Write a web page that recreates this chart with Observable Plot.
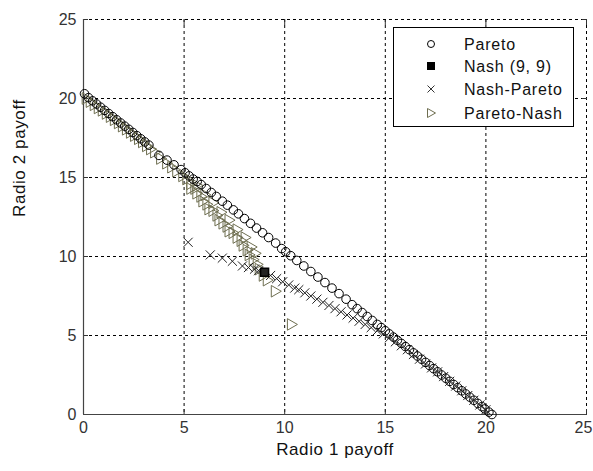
<!DOCTYPE html>
<html>
<head>
<meta charset="utf-8">
<script src="https://cdn.jsdelivr.net/npm/d3@7"></script>
<script src="https://cdn.jsdelivr.net/npm/@observablehq/plot@0.6"></script>
<style>
  html, body { margin: 0; padding: 0; background: #fff; }
  #wrap { position: relative; width: 593px; height: 471px; font-family: "Liberation Sans", Arial, sans-serif; }
  #legend { position: absolute; left: 393px; top: 27px; width: 181px; height: 100px; border: 1px solid #000; background: #fff; box-sizing: border-box; }
  #legend svg { position: absolute; left: 0; top: 0; }
</style>
</head>
<body>
<div id="wrap"></div>
<script>
// ---- data ----
const paretoX = [0.05,0.25,0.45,0.65,0.85,1.05,1.25,1.45,1.65,1.85,2.05,2.25,2.45,2.65,2.85,3.05,3.25,3.75,4.15,4.5,4.85,5.05,5.25,5.45,5.65,5.85,6.1,6.35,6.6,6.9,7.15,7.45,7.7,8.0,8.3,8.6,8.9,9.2,9.55,9.85,10.05,10.3,10.6,10.95,11.3,11.65,12.0,12.35,12.7,13.05,13.35,13.6,13.85,14.1,14.35,14.6,14.8,15.0,15.2,15.4,15.6,15.8,16.0,16.2,16.4,16.6,16.8,17.0,17.2,17.4,17.6,17.8,18.0,18.2,18.4,18.6,18.8,19.0,19.2,19.4,19.6,19.8,19.95,20.15,20.3];
const paretoY = [20.3,20.05,19.85,19.65,19.45,19.25,19.05,18.85,18.65,18.45,18.25,18.05,17.85,17.65,17.45,17.25,17.05,16.4,16.1,15.8,15.5,15.3,15.1,14.9,14.75,14.55,14.3,14.05,13.8,13.5,13.25,12.95,12.7,12.4,12.1,11.8,11.5,11.2,10.85,10.5,10.3,10.05,9.75,9.4,9.05,8.7,8.35,8.0,7.65,7.3,6.95,6.7,6.45,6.2,5.95,5.7,5.5,5.3,5.1,4.9,4.7,4.5,4.3,4.1,3.9,3.7,3.5,3.3,3.1,2.9,2.7,2.5,2.3,2.1,1.9,1.7,1.5,1.3,1.1,0.9,0.7,0.5,0.35,0.15,0.0];

const nashX = [9.0];
const nashY = [9.0];

const npX = [5.2,6.3,6.9,7.4,7.9,8.2,8.5,8.7,9.3,9.6,9.9,10.2,10.5,10.7,11.0,11.3,11.6,11.9,12.2,12.5,12.8,13.1,13.4,13.7,14.0,14.3,14.6,14.9,15.2,15.5,15.8,16.1,16.4,16.7,17.0,17.3,17.6,17.9,18.2,18.5,18.8,19.1,19.4,19.7,20.0];
const npY = [10.9,10.1,9.9,9.7,9.4,9.3,9.2,9.1,8.8,8.6,8.4,8.2,8.0,7.9,7.7,7.5,7.3,7.1,6.9,6.7,6.5,6.3,6.1,5.9,5.7,5.5,5.3,5.1,4.85,4.6,4.35,4.1,3.8,3.5,3.2,2.95,2.7,2.4,2.1,1.8,1.5,1.2,0.9,0.6,0.3];

const pnX = [0.1,0.3,0.5,0.7,0.9,1.1,1.3,1.5,1.7,1.9,2.1,2.3,2.5,2.7,2.9,3.1,3.3,3.5,3.8,4.1,4.35,4.6,4.9,5.1,5.3,5.3,5.5,5.6,5.8,5.9,6.1,6.2,6.4,6.6,6.7,6.9,7.1,7.2,7.4,7.6,7.8,7.9,8.1,8.2,8.4,8.6,8.7,8.9,9.1,9.5,10.3,5.6,6.0,6.4,6.8,7.2,7.6,8.0,8.3,8.5];
const pnY = [20.0,19.8,19.6,19.4,19.25,19.05,18.85,18.65,18.45,18.25,18.05,17.85,17.65,17.45,17.25,17.0,16.8,16.6,16.2,15.9,15.65,15.4,15.1,14.9,14.6,14.3,14.3,14.0,13.8,13.5,13.3,13.0,12.9,12.6,12.3,12.1,11.9,11.6,11.5,11.2,11.0,10.7,10.4,10.1,9.8,9.5,9.2,8.8,8.5,7.8,5.7,14.5,13.9,13.4,12.8,12.3,11.7,11.2,10.6,10.2];

const xTicks = [0,5,10,15,20,25];
const yTicks = [0,5,10,15,20,25];
const xLabel = "Radio 1 payoff";
const yLabel = "Radio 2 payoff";
const legendLabels = ["Pareto","Nash (9, 9)","Nash-Pareto","Pareto-Nash"];

const zip = (xs, ys) => xs.map((x, i) => ({x, y: ys[i]}));
const pareto = zip(paretoX, paretoY);
const nash = zip(nashX, nashY);
const np = zip(npX, npY);
const pn = zip(pnX, pnY);

const olive = "#6e6e50";
const lastX = xTicks[xTicks.length - 1];

const chart = Plot.plot({
  width: 593,
  height: 471,
  marginLeft: 83,
  marginRight: 7,
  marginTop: 19,
  marginBottom: 57,
  style: {fontFamily: "Liberation Sans, Arial, sans-serif", fontSize: "16px", background: "#fff", color: "#333"},
  x: {domain: [0, 25], ticks: xTicks},
  y: {domain: [0, 25], ticks: yTicks},
  marks: [
    Plot.gridX(xTicks, {stroke: "#000", strokeOpacity: 1, strokeDasharray: "3,3"}),
    Plot.gridY(yTicks, {stroke: "#000", strokeOpacity: 1, strokeDasharray: "3,3"}),
    Plot.axisX(xTicks.filter(t => t !== lastX), {anchor: "bottom", tickSize: 0, tickPadding: 7, label: null, fontSize: 16, fill: "#333"}),
    Plot.axisX([lastX], {anchor: "bottom", tickSize: 0, tickPadding: 7, label: null, fontSize: 16, fill: "#333", dx: -3}),
    Plot.axisY(yTicks, {anchor: "left", tickSize: 0, tickPadding: 7, label: null, fontSize: 16, fill: "#333"}),
    Plot.axisX(xTicks, {anchor: "bottom", tickSize: -5, tickFormat: () => "", label: null, stroke: "#333"}),
    Plot.axisX(xTicks, {anchor: "top", tickSize: -5, tickFormat: () => "", label: null, stroke: "#333"}),
    Plot.axisY(yTicks, {anchor: "left", tickSize: -5, tickFormat: () => "", label: null, stroke: "#333"}),
    Plot.axisY(yTicks, {anchor: "right", tickSize: -5, tickFormat: () => "", label: null, stroke: "#333"}),
    Plot.ruleX([0], {stroke: "#444", strokeWidth: 1.2}),
    Plot.ruleY([0], {stroke: "#444", strokeWidth: 1.2}),
    Plot.dot(pn, {x: "x", y: "y", symbol: "triangle", rotate: 90, r: 4.3, stroke: olive, strokeWidth: 1, fill: "none"}),
    Plot.dot(pareto, {x: "x", y: "y", symbol: "circle", r: 4.3, stroke: "#000", strokeWidth: 1, fill: "none"}),
    Plot.dot(np, {x: "x", y: "y", symbol: "times", r: 4.2, stroke: "#222", strokeWidth: 1}),
    Plot.dot(nash, {x: "x", y: "y", symbol: "square", r: 4.5, stroke: "#000", fill: "#222"}),
    Plot.text([xLabel], {frameAnchor: "bottom", dy: 40, fontSize: 17, fill: "#111"}),
    Plot.text([yLabel], {frameAnchor: "left", dx: -64, rotate: -90, fontSize: 17, fill: "#111"})
  ]
});

const wrap = document.getElementById("wrap");
wrap.appendChild(chart);
// letter spacing on axis titles
chart.querySelectorAll("text").forEach(t => {
  if (t.textContent === xLabel || t.textContent === yLabel) t.setAttribute("letter-spacing", "0.6");
});

// legend (HTML overlay)
const leg = document.createElement("div");
leg.id = "legend";
const rowsY = [16, 38, 61, 85];
const ns = "http://www.w3.org/2000/svg";
const svg = document.createElementNS(ns, "svg");
svg.setAttribute("width", 181);
svg.setAttribute("height", 100);
const symDraw = [
  (g, cy) => { const c = document.createElementNS(ns, "circle"); c.setAttribute("cx", 37); c.setAttribute("cy", cy); c.setAttribute("r", 3.5); c.setAttribute("fill", "none"); c.setAttribute("stroke", "#000"); g.appendChild(c); },
  (g, cy) => { const r = document.createElementNS(ns, "rect"); r.setAttribute("x", 33); r.setAttribute("y", cy - 4); r.setAttribute("width", 8); r.setAttribute("height", 8); r.setAttribute("fill", "#000"); g.appendChild(r); },
  (g, cy) => { const p = document.createElementNS(ns, "path"); p.setAttribute("d", `M${33.5},${cy-3.5}L${40.5},${cy+3.5}M${33.5},${cy+3.5}L${40.5},${cy-3.5}`); p.setAttribute("stroke", "#333"); g.appendChild(p); },
  (g, cy) => { const p = document.createElementNS(ns, "path"); p.setAttribute("d", `M${33.5},${cy-4.5}L${41.5},${cy}L${33.5},${cy+4.5}Z`); p.setAttribute("stroke", olive); p.setAttribute("fill", "none"); g.appendChild(p); }
];
legendLabels.forEach((lab, i) => {
  symDraw[i](svg, rowsY[i]);
  const t = document.createElementNS(ns, "text");
  t.setAttribute("x", 70);
  t.setAttribute("y", rowsY[i]);
  t.setAttribute("dy", "0.35em");
  t.setAttribute("font-size", "16");
  t.setAttribute("letter-spacing", "0.8");
  t.setAttribute("font-family", "Liberation Sans, Arial, sans-serif");
  t.setAttribute("fill", "#111");
  t.textContent = lab;
  svg.appendChild(t);
});
leg.appendChild(svg);
wrap.appendChild(leg);
</script>
</body>
</html>
